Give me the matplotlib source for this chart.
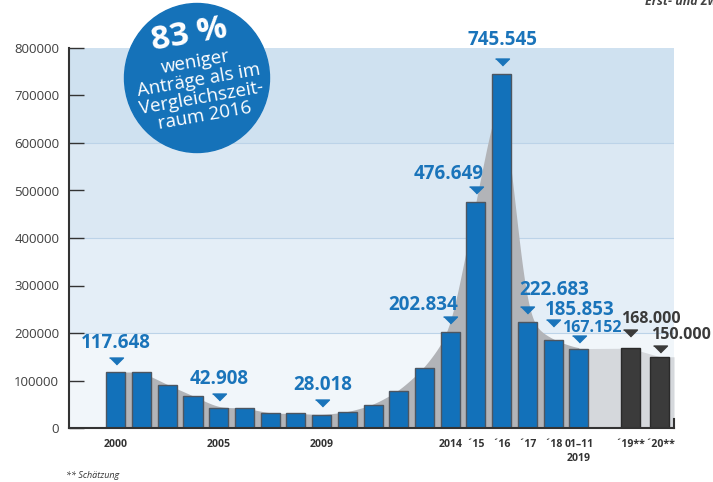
import numpy as np
import matplotlib
matplotlib.use("Agg")
import matplotlib.pyplot as plt
from matplotlib.patches import Ellipse
from matplotlib.transforms import offset_copy

plt.rcParams['font.family'] = ['Open Sans', 'DejaVu Sans']

# ---- data -------------------------------------------------------------
year_labels = ['2000', '', '', '', '2005', '', '', '', '2009', '', '', '', '',
               '2014', '´15', '´16', '´17', '´18', '01–11\n2019']
applications = [117648, 118300, 91500, 67800, 42908, 42800, 30900, 30900,
                28018, 33700, 49000, 78700, 127000, 202834, 476649, 745545,
                222683, 185853, 167152]
estimate_labels = ['´19**', '´20**']
estimates = [168000, 150000]
labelled_bars = [0, 4, 8, 13, 14, 15, 16, 17, 18]

# ---- layout -------------------------------------------------------------
W, H = 713, 482
BLUE = '#1271ba'
TEXT_BLUE = '#1a74ba'
DARK = '#3b3b3b'
est_pos = [20.0, 21.15]
x_left, x_right = -1.82, 21.70
bar_w = 0.74
# (dx px, baseline above bar top px, marker gap px, font size)
label_style = {0: (0, 24, 8, 13.5), 4: (0, 24, 7, 13.5), 8: (1, 25, 8, 13.5),
               13: (-27, 22, 8, 13.5), 14: (-27, 23, 8, 13.5),
               15: (1, 29, 8, 13.5), 16: (27, 27, 9, 13.5),
               17: (27, 25, 13, 13.5), 18: (13, 17, 6, 11.5)}
est_style = [(21, 25, 12, 11.5), (21, 18, 4, 11.5)]

fig = plt.figure(figsize=(W / 100, H / 100), dpi=100)
ax = fig.add_axes([69 / W, 54 / H, 605 / W, 380 / H])
ax.set_xlim(x_left, x_right)
ax.set_ylim(0, 800000)

# background bands
bands = [(0, 200000, '#f1f6fa'), (200000, 400000, '#e4eef7'),
         (400000, 600000, '#dbe8f3'), (600000, 800000, '#cfe1f0')]
for lo, hi, c in bands:
    ax.axhspan(lo, hi, color=c, lw=0, zorder=0)
for yv in (200000, 400000, 600000):
    ax.axhline(yv, color='#bcd3e8', lw=0.8, zorder=0.5)


def smooth(xs, ys, n_per=40, sigma=0.28):
    xd = np.linspace(xs[0], xs[-1], (len(xs) - 1) * n_per + 1)
    yd = np.interp(xd, xs, ys)
    step = xd[1] - xd[0]
    k = int(3 * sigma / step)
    kern = np.exp(-0.5 * ((np.arange(-k, k + 1) * step) / sigma) ** 2)
    kern /= kern.sum()
    return xd, np.convolve(np.pad(yd, k, mode='edge'), kern, mode='valid')


x_bars = np.arange(len(applications))
xs, ys = smooth(x_bars, applications)
ax.fill_between(xs, 0, ys, color='#b2b4b8', lw=0, zorder=1)

tail_x = [x_bars[-1]] + est_pos + [x_right]
tail_y = [applications[-1]] + estimates + [estimates[-1]]
ax.fill_between(tail_x, 0, tail_y, color='#d5d8dc', lw=0, zorder=1)

ax.bar(x_bars, applications, width=bar_w, color=BLUE, edgecolor='#4d5661',
       linewidth=1, zorder=2)
ax.bar(est_pos, estimates, width=bar_w, color=DARK, edgecolor='#2a2a2a',
       linewidth=1, zorder=2)

tri = [(-1, 0.5), (1, 0.5), (0, -0.5)]


def fmt(v):
    return f"{v:,}".replace(',', '.')


def annotate(x, v, style, color):
    dx, dy, gap, fs = style
    tr = offset_copy(ax.transData, fig=fig, x=0, y=gap + 3.5, units='dots')
    ax.plot([x], [v], marker=tri, ms=10, color=color, lw=0, transform=tr,
            zorder=3, clip_on=False)
    ax.annotate(fmt(v), xy=(x, v), xytext=(dx, dy), textcoords='offset pixels',
                ha='center', va='baseline', fontsize=fs, fontweight='bold',
                color=color, zorder=4, annotation_clip=False)


for i in labelled_bars:
    annotate(x_bars[i], applications[i], label_style[i], TEXT_BLUE)
for xp, v, st in zip(est_pos, estimates, est_style):
    annotate(xp, v, st, '#3a3a3a')

# axes styling
for s in ('top', 'right'):
    ax.spines[s].set_visible(False)
for s in ('left', 'bottom'):
    ax.spines[s].set_color('#333333')
    ax.spines[s].set_linewidth(1.5)
ax.plot([x_right, x_right], [0, 20000], color='#333333', lw=1.5,
        clip_on=False, zorder=5)

yt = list(range(0, 800001, 100000))
ax.set_yticks(yt)
ax.set_yticklabels([str(v) for v in yt])
ax.tick_params(axis='y', direction='in', length=11, width=1, color='#333333',
               labelsize=9.5, labelcolor='#404040', pad=7)

ax.set_xticks(list(x_bars) + est_pos)
ax.set_xticklabels(year_labels + estimate_labels)
ax.tick_params(axis='x', length=0, labelsize=7.6, labelcolor='#333333', pad=8)
for t in ax.get_xticklabels():
    t.set_fontweight('bold')
    t.set_linespacing(1.3)

# call-out circle
fig.patches.append(Ellipse((197 / W, 1 - 78 / H), 145 / W, 149 / H,
                           transform=fig.transFigure, color='#1572b9', zorder=5))
fig.text(189 / W, 1 - 35 / H, '83 %', fontsize=24, fontweight='bold',
         color='white', ha='center', va='center', rotation=10,
         rotation_mode='anchor', zorder=6)
fig.text(200 / W, 1 - 89 / H, 'weniger\nAnträge als im\nVergleichszeit-\nraum 2016',
         fontsize=13.5, color='white', ha='center', va='center', rotation=10,
         rotation_mode='anchor', linespacing=1.0, zorder=6)

fig.text(645 / W, 1 - 5 / H, 'Erst- und Zweitanträge', fontsize=9,
         fontweight='bold', style='italic', color='#444444', va='baseline')
fig.text(66 / W, 1 - 475 / H, '** Schätzung', fontsize=6.5, style='italic',
         color='#333333', va='center')

fig.savefig('out.png', dpi=100)
